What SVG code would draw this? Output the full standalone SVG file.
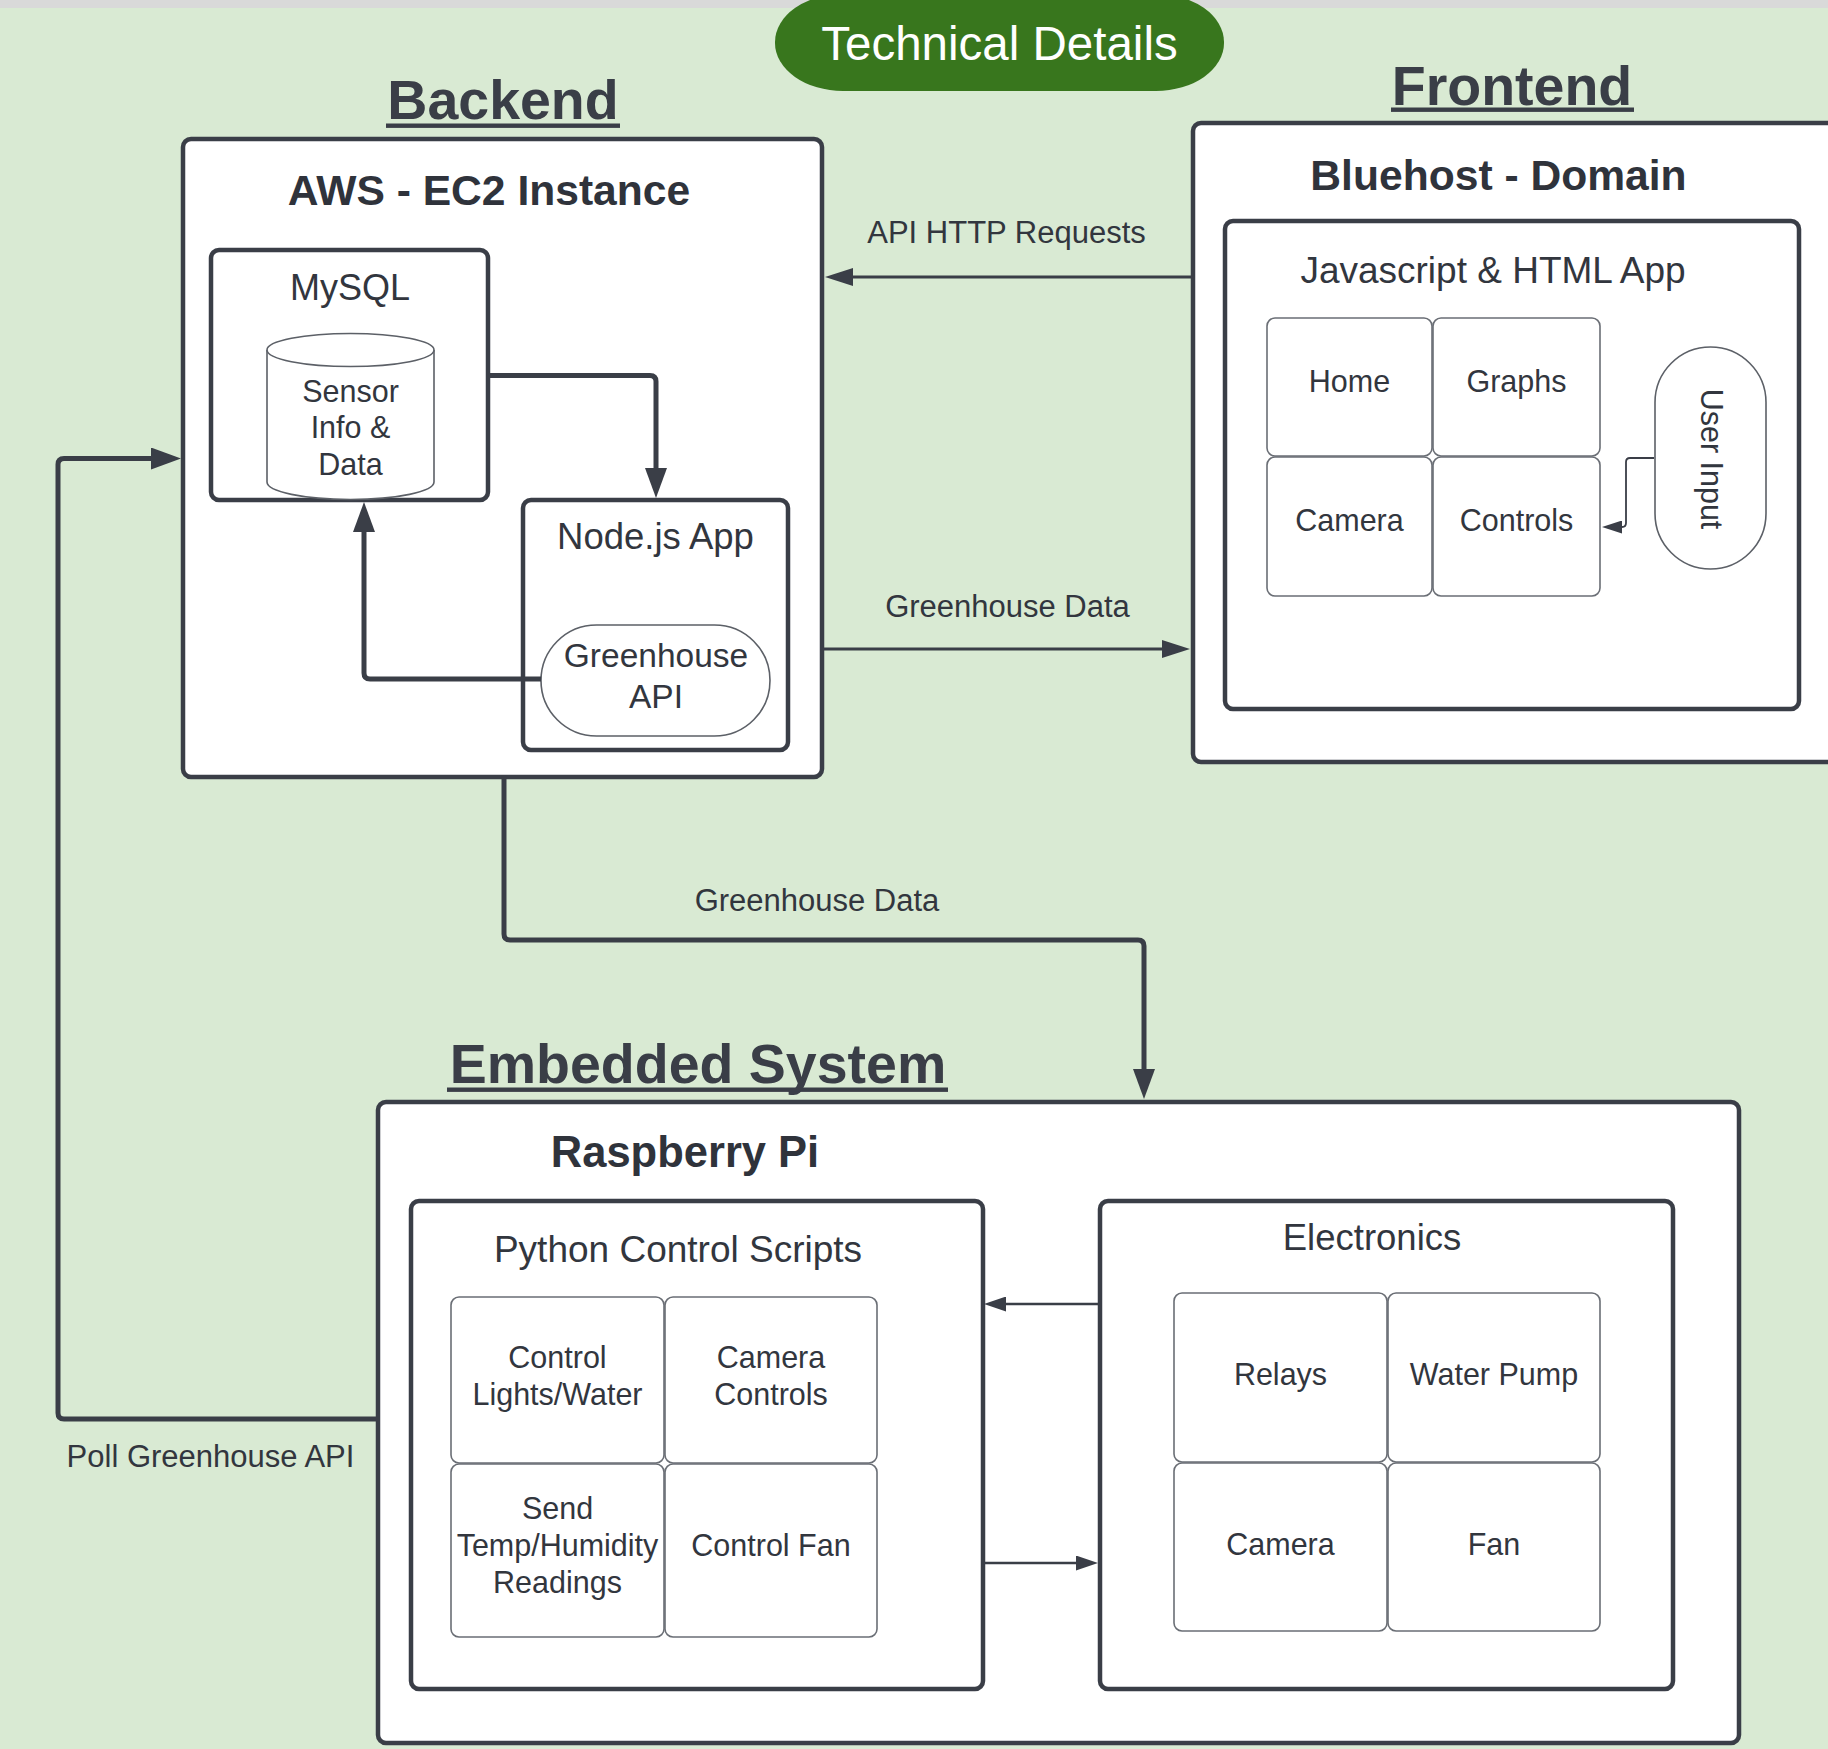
<svg xmlns="http://www.w3.org/2000/svg" width="1828" height="1749" viewBox="0 0 1828 1749">
<defs>
<style>
.box{fill:#ffffff;stroke:#3a3e47;stroke-width:4.5}
.cell{fill:#ffffff;stroke:#6a6e75;stroke-width:1.6}
.thin{fill:#ffffff;stroke:#5c6067;stroke-width:1.6}
.t{font-family:"Liberation Sans",Arial,sans-serif;fill:#32363e;text-anchor:middle}
.b{font-family:"Liberation Sans",Arial,sans-serif;font-weight:bold;fill:#2f333b;text-anchor:middle;font-size:42.6px}
.h{font-family:"Liberation Sans",Arial,sans-serif;font-weight:bold;fill:#3a3e47;text-anchor:middle;font-size:55.5px}
.c{fill:none;stroke:#3a3e47;stroke-linejoin:round}
.w5{stroke-width:5}
.w3{stroke-width:3}
.w25{stroke-width:2.5}
.w2{stroke-width:1.8}
.ul{fill:#3a3e47}
.cl{font-size:30.5px}
.lb{font-size:31px}
.tl{font-size:36.5px}
</style>
<marker id="ah5" markerUnits="userSpaceOnUse" markerWidth="30" markerHeight="22" refX="15" refY="11" orient="auto"><path d="M0,0 L30,11 L0,22 z" fill="#3a3e47"/></marker>
<marker id="ah3" markerUnits="userSpaceOnUse" markerWidth="28" markerHeight="18" refX="14" refY="9" orient="auto"><path d="M0,0 L28,9 L0,18 z" fill="#3a3e47"/></marker>
<marker id="ah25" markerUnits="userSpaceOnUse" markerWidth="22" markerHeight="15" refX="11" refY="7.5" orient="auto"><path d="M0,0 L22,7.5 L0,15 z" fill="#3a3e47"/></marker>
<marker id="ah2" markerUnits="userSpaceOnUse" markerWidth="20" markerHeight="13" refX="10" refY="6.5" orient="auto"><path d="M0,0 L20,6.5 L0,13 z" fill="#3a3e47"/></marker>
</defs>
<rect x="0" y="0" width="1828" height="1749" fill="#d9ead3"/>
<rect x="0" y="0" width="1828" height="8" fill="#d9d9d9"/>

<g id="title">
<rect x="775" y="-6" width="449" height="97" rx="68" ry="48" fill="#38761d"/>
<text x="999.5" y="60" class="t" style="fill:#ffffff;font-size:47.5px">Technical Details</text>
</g>

<g id="heading-backend">
<text x="503" y="119" class="h">Backend</text>
<rect x="386" y="123.5" width="234" height="4.4" class="ul"/>
</g>
<g id="heading-frontend">
<text x="1512" y="104.5" class="h">Frontend</text>
<rect x="1391" y="107.5" width="243" height="4.4" class="ul"/>
</g>
<g id="heading-embedded">
<text x="698" y="1083" class="h">Embedded System</text>
<rect x="447" y="1087.5" width="501" height="4.4" class="ul"/>
</g>

<g id="backend">
<rect x="183" y="139" width="639" height="638" rx="8" class="box"/>
<text x="489" y="205" class="b">AWS - EC2 Instance</text>
</g>
<g id="mysql">
<rect x="211" y="250" width="277" height="250" rx="8" class="box"/>
<text x="350" y="300" class="t" style="font-size:36px">MySQL</text>
</g>
<g id="sensor-db">
<path d="M267,350 L267,482 A83.5,17.5 0 0 0 434,482 L434,350" class="thin"/>
<ellipse cx="350.5" cy="350" rx="83.5" ry="16.5" class="thin"/>
<text class="t" style="font-size:30.5px"><tspan x="350.5" y="402">Sensor</tspan><tspan x="350.5" y="438">Info &amp;</tspan><tspan x="350.5" y="475">Data</tspan></text>
</g>
<g id="nodejs">
<rect x="523" y="500" width="265" height="250" rx="8" class="box"/>
<text x="655.5" y="549" class="t" style="font-size:36.5px">Node.js App</text>
</g>
<g id="greenhouse-api">
<rect x="541" y="625" width="229" height="111" rx="55.5" class="thin"/>
<text class="t" style="font-size:33.5px"><tspan x="656" y="667">Greenhouse</tspan><tspan x="656" y="708">API</tspan></text>
</g>

<g id="frontend">
<rect x="1193" y="123" width="660" height="639" rx="8" class="box"/>
<text x="1498.5" y="190" class="b">Bluehost - Domain</text>
</g>
<g id="js-app">
<rect x="1225" y="221" width="574" height="488" rx="8" class="box"/>
<text x="1493" y="283" class="t" style="font-size:37px">Javascript &amp; HTML App</text>
</g>
<g id="fe-home"><rect x="1267" y="318" width="165" height="138" rx="8" class="cell"/><text x="1349.5" y="392" class="t cl">Home</text></g>
<g id="fe-graphs"><rect x="1433" y="318" width="167" height="138" rx="8" class="cell"/><text x="1516.5" y="392" class="t cl">Graphs</text></g>
<g id="fe-camera"><rect x="1267" y="457" width="165" height="139" rx="8" class="cell"/><text x="1349.5" y="531" class="t cl">Camera</text></g>
<g id="fe-controls"><rect x="1433" y="457" width="167" height="139" rx="8" class="cell"/><text x="1516.5" y="531" class="t cl">Controls</text></g>
<g id="user-input">
<rect x="1655" y="347" width="111" height="222" rx="55.5" class="thin"/>
<text class="t cl" transform="translate(1701,459) rotate(90)" x="0" y="0">User Input</text>
</g>

<g id="raspberry-pi">
<rect x="378" y="1102" width="1361" height="641" rx="8" class="box"/>
<text x="685" y="1167" class="b" style="font-size:43.5px">Raspberry Pi</text>
</g>
<g id="python">
<rect x="411" y="1201" width="572" height="488" rx="8" class="box"/>
<text x="678" y="1262" class="t" style="font-size:37px">Python Control Scripts</text>
</g>
<g id="py-lights"><rect x="451" y="1297" width="213" height="166" rx="8" class="cell"/><text class="t cl"><tspan x="557.5" y="1368">Control</tspan><tspan x="557.5" y="1405">Lights/Water</tspan></text></g>
<g id="py-camera"><rect x="665" y="1297" width="212" height="166" rx="8" class="cell"/><text class="t cl"><tspan x="771" y="1368">Camera</tspan><tspan x="771" y="1405">Controls</tspan></text></g>
<g id="py-readings"><rect x="451" y="1464" width="213" height="173" rx="8" class="cell"/><text class="t cl"><tspan x="557.5" y="1519">Send</tspan><tspan x="557.5" y="1556">Temp/Humidity</tspan><tspan x="557.5" y="1593">Readings</tspan></text></g>
<g id="py-fan"><rect x="665" y="1464" width="212" height="173" rx="8" class="cell"/><text x="771" y="1556" class="t cl">Control Fan</text></g>

<g id="electronics">
<rect x="1100" y="1201" width="573" height="488" rx="8" class="box"/>
<text x="1372" y="1250" class="t tl">Electronics</text>
</g>
<g id="el-relays"><rect x="1174" y="1293" width="213" height="169" rx="8" class="cell"/><text x="1280.5" y="1385" class="t cl">Relays</text></g>
<g id="el-pump"><rect x="1388" y="1293" width="212" height="169" rx="8" class="cell"/><text x="1494" y="1385" class="t cl">Water Pump</text></g>
<g id="el-camera"><rect x="1174" y="1463" width="213" height="168" rx="8" class="cell"/><text x="1280.5" y="1555" class="t cl">Camera</text></g>
<g id="el-fan"><rect x="1388" y="1463" width="212" height="168" rx="8" class="cell"/><text x="1494" y="1555" class="t cl">Fan</text></g>

<g id="connectors">
<path d="M1193,277 L839,277" class="c w3" marker-end="url(#ah3)"/>
<text x="1006.5" y="243" class="t lb">API HTTP Requests</text>
<path d="M823,649 L1176,649" class="c w3" marker-end="url(#ah3)"/>
<text x="1007.5" y="617" class="t lb">Greenhouse Data</text>
<path d="M488,375.5 L650,375.5 Q656,375.5 656,381.5 L656,483" class="c w5" marker-end="url(#ah5)"/>
<path d="M541,679 L370,679 Q364,679 364,673 L364,517" class="c w5" marker-end="url(#ah5)"/>
<path d="M504,777 L504,934 Q504,940 510,940 L1138,940 Q1144,940 1144,946 L1144,1084" class="c w5" marker-end="url(#ah5)"/>
<text x="817" y="911" class="t lb">Greenhouse Data</text>
<path d="M378,1419 L64,1419 Q58,1419 58,1413 L58,464.5 Q58,458.5 64,458.5 L166,458.5" class="c w5" marker-end="url(#ah5)"/>
<text x="210.5" y="1467" class="t lb">Poll Greenhouse API</text>
<path d="M1654,458 L1630,458 Q1626,458 1626,462 L1626,523 Q1626,527 1622,527 L1612,527" class="c w2" marker-end="url(#ah2)"/>
<path d="M1099,1304 L995,1304" class="c w25" marker-end="url(#ah25)"/>
<path d="M983,1563 L1087,1563" class="c w25" marker-end="url(#ah25)"/>
</g>
</svg>
